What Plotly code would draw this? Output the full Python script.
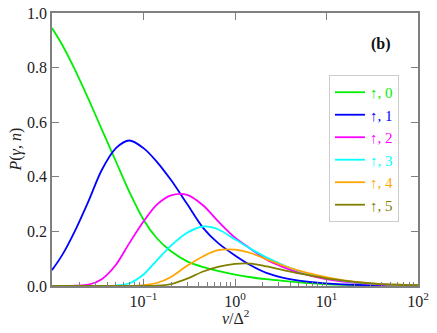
import plotly.graph_objects as go

# v / Delta^2 sample points
v_over_delta2 = [0.01, 0.013, 0.018, 0.025, 0.035, 0.05, 0.07, 0.1, 0.14, 0.2, 0.3,
                 0.45, 0.65, 1, 1.5, 2.2, 3.3, 5, 8, 12, 20, 35, 60, 100]

p_up_0 = [0.945, 0.882, 0.789, 0.685, 0.574, 0.456, 0.345, 0.243, 0.175, 0.127, 0.09,
          0.069, 0.055, 0.042, 0.032, 0.025, 0.019, 0.0135, 0.0085, 0.0055, 0.0033, 0.0019, 0.0011, 0.0007]
p_up_1 = [0.058, 0.115, 0.205, 0.31, 0.425, 0.505, 0.533, 0.505, 0.455, 0.388, 0.30,
          0.212, 0.158, 0.112, 0.075, 0.048, 0.031, 0.02, 0.012, 0.0075, 0.0045, 0.0026, 0.0015, 0.001]
p_up_2 = [0.0, 0.0, 0.001, 0.005, 0.025, 0.078, 0.157, 0.236, 0.298, 0.332, 0.334,
          0.295, 0.238, 0.177, 0.135, 0.097, 0.07, 0.049, 0.032, 0.021, 0.012, 0.0065, 0.0035, 0.002]
p_up_3 = [0.0, 0.0, 0.0, 0.0, 0.0, 0.0015, 0.01, 0.042, 0.094, 0.148, 0.195,
          0.218, 0.208, 0.171, 0.135, 0.105, 0.078, 0.055, 0.037, 0.025, 0.014, 0.0075, 0.004, 0.0025]
p_up_4 = [0.0, 0.0, 0.0, 0.0, 0.0, 0.0, 0.0, 0.003, 0.011, 0.033, 0.074,
          0.109, 0.131, 0.133, 0.12, 0.098, 0.076, 0.056, 0.039, 0.027, 0.016, 0.009, 0.0045, 0.0028]
p_up_5 = [0.0, 0.0, 0.0, 0.0, 0.0, 0.0, 0.0, 0.0, 0.001, 0.007, 0.027,
          0.053, 0.07, 0.081, 0.082, 0.072, 0.059, 0.046, 0.034, 0.024, 0.015, 0.008, 0.0045, 0.0028]

series = [p_up_0, p_up_1, p_up_2, p_up_3, p_up_4, p_up_5]
labels = ["↑, 0", "↑, 1", "↑, 2", "↑, 3", "↑, 4", "↑, 5"]
colors = ["#00ee00", "#0000ff", "#ff00ff", "#00ffff", "#ffa500", "#808000"]

x_tickvals = [0.1, 1, 10, 100]
x_ticktext = ["10<sup>−1</sup>", "10<sup>0</sup>", "10<sup>1</sup>", "10<sup>2</sup>"]
x_minor_tickvals = [m * d for d in (0.01, 0.1, 1, 10) for m in range(2, 10)]
y_tickvals = [0.0, 0.2, 0.4, 0.6, 0.8, 1.0]

FONT = "Liberation Serif, Times New Roman, serif"
AX = "#808080"
FS = 16

fig = go.Figure()
for ys, lab, col in zip(series, labels, colors):
    fig.add_trace(go.Scatter(
        x=v_over_delta2, y=ys, mode="lines",
        line=dict(color=col, width=1.8, shape="spline", smoothing=0.9),
        name=f'<span style="color:{col}">{lab}</span>',
    ))

# empty trace to carry the top axis (major ticks only)
fig.add_trace(go.Scatter(x=[None], y=[None], xaxis="x2", showlegend=False,
                         hoverinfo="skip"))

fig.update_layout(
    width=437, height=333,
    margin=dict(l=52, r=19, t=13, b=47),
    paper_bgcolor="white", plot_bgcolor="white",
    font=dict(family=FONT, size=FS, color="#222222"),
    showlegend=True,
    legend=dict(
        x=0.948, xanchor="right", y=0.773, yanchor="top",
        bgcolor="white", bordercolor="#cccccc", borderwidth=1,
        font=dict(family=FONT, size=FS - 1),
    ),
    xaxis=dict(
        type="log", range=[-2, 2], automargin=False,
        tickvals=x_tickvals, ticktext=x_ticktext,
        ticks="inside", ticklen=7, tickwidth=1, tickcolor=AX,
        minor=dict(tickvals=x_minor_tickvals, ticks="inside", ticklen=4,
                   tickwidth=1, tickcolor=AX, showgrid=False),
        showline=True, linecolor=AX, linewidth=1.5, mirror=True,
        showgrid=False, zeroline=False,
        tickfont=dict(family=FONT, size=FS),
    ),
    xaxis2=dict(
        type="log", range=[-2, 2], overlaying="x", side="top", anchor="y",
        automargin=False,
        tickvals=x_tickvals, showticklabels=False,
        ticks="inside", ticklen=7, tickwidth=1, tickcolor=AX,
        showline=False, showgrid=False, zeroline=False,
    ),
    yaxis=dict(
        range=[0, 1], automargin=False,
        tickvals=y_tickvals, tickformat=".1f",
        ticks="inside", ticklen=7, tickwidth=1, tickcolor=AX,
        showline=True, linecolor=AX, linewidth=1.5, mirror="ticks",
        showgrid=False, zeroline=False,
        tickfont=dict(family=FONT, size=FS),
    ),
    annotations=[
        dict(text="<b>(b)</b>", xref="paper", yref="paper", x=0.90, y=0.886,
             xanchor="center", yanchor="middle",
             showarrow=False, font=dict(family=FONT, size=FS, color="#111111")),
        dict(text="<i>v</i>/Δ<sup>2</sup>", xref="paper", yref="paper", x=0.5, y=-0.114,
             xanchor="center", yanchor="middle",
             showarrow=False, font=dict(family=FONT, size=FS, color="#222222")),
        dict(text="<i>P</i>(<i>γ</i>, <i>n</i>)", xref="paper", yref="paper", x=-0.101, y=0.5,
             xanchor="center", yanchor="middle", textangle=-90,
             showarrow=False, font=dict(family=FONT, size=FS, color="#222222")),
    ],
)

fig.write_html("out.html", config={"displayModeBar": False},
               post_script="document.body.style.margin='0';document.body.style.padding='0';")
